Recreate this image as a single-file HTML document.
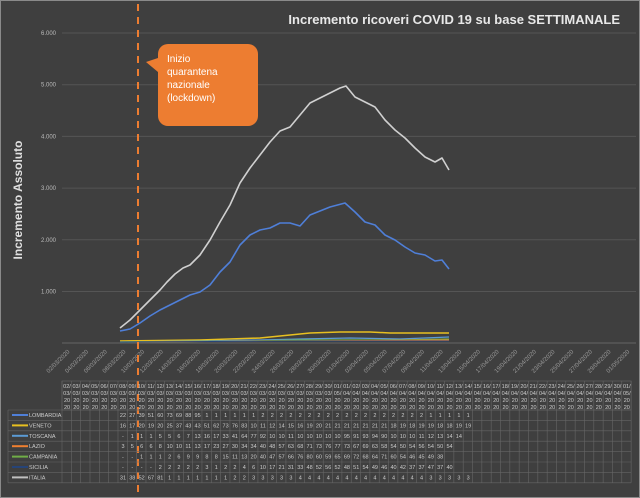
<!DOCTYPE html><html><head><meta charset="utf-8"><style>
html,body{margin:0;padding:0;background:#3f3f3f;width:640px;height:498px;overflow:hidden}
svg{display:block;font-family:"Liberation Sans",sans-serif}
</style></head><body>
<svg id="s" width="640" height="498" xmlns="http://www.w3.org/2000/svg">
<rect x="0.5" y="0.5" width="639" height="497" fill="#3f3f3f" stroke="#8a8a8a"/>
<text x="620" y="24" fill="#e8e8e8" font-size="13" font-weight="bold" text-anchor="end">Incremento ricoveri COVID 19 su base SETTIMANALE</text>
<text transform="translate(22,200) rotate(-90)" fill="#e0e0e0" font-size="12" font-weight="bold" text-anchor="middle">Incremento Assoluto</text>
<g id="grid"></g>
<g id="series"></g>
<line x1="138" y1="4" x2="138" y2="498" stroke="#ed7d31" stroke-width="2" stroke-dasharray="7,6"/>
<path d="M168,44 h80 a10,10 0 0 1 10,10 v62 a10,10 0 0 1 -10,10 h-80 a10,10 0 0 1 -10,-10 v-44 l-12,-10 12,-4 v-4 a10,10 0 0 1 10,-10z" fill="#ed7d31"/>
<text fill="#fff" font-size="10"><tspan x="167" y="62">Inizio</tspan><tspan x="167" y="75">quarantena</tspan><tspan x="167" y="88">nazionale</tspan><tspan x="167" y="101">(lockdown)</tspan></text>
<g id="tbl"></g>
</svg>
<script>
(function(){
var NS="http://www.w3.org/2000/svg";
function el(p,t,a,txt){var e=document.createElementNS(NS,t);for(var k in a)e.setAttribute(k,a[k]);if(txt!=null)e.textContent=txt;document.getElementById(p).appendChild(e);return e;}
var ylab=["6.000","5.000","4.000","3.000","2.000","1.000"];
for(var i=0;i<6;i++){var y=33+i*51.7;el("grid","line",{x1:62,x2:636,y1:y,y2:y,stroke:"#555","stroke-width":1});el("grid","text",{x:56,y:y+2,fill:"#bbb","font-size":6,"text-anchor":"end"},ylab[i]);}
el("grid","line",{x1:62,x2:636,y1:343,y2:343,stroke:"#666"});
var c0=67,dx=9.33,N=61;
function dstr(i){var d=2+i,m=3;if(d>31){d-=31;m=4;}if(d>30){d-=30;m=5;}return (d<10?"0":"")+d+"/0"+m+"/2020";}
for(var i=0;i<N;i+=2){var x=c0+i*dx;el("grid","text",{transform:"translate("+(x+3)+",352) rotate(-45)",fill:"#999","font-size":6,"text-anchor":"end"},dstr(i));}
function pl(pts,col,w){el("series","polyline",{points:pts,fill:"none",stroke:col,"stroke-width":w,"stroke-linejoin":"round"});}
pl("120,328 130,320 140,310 150,300 160,290 167,282 175,274 183,268 190,265 200,255 210,240 220,222 230,205 240,183 250,168 260,155 270,142 280,131 290,127 300,115 310,103 320,98 330,93 340,88 346,86 355,97 365,102 375,107 385,120 395,130 405,138 415,148 425,157 435,162 442,158 449,170","#d0d0d0",1.6);
pl("120,331 130,329 140,323 150,316 160,310 170,305 180,300 190,295 200,292 210,285 220,272 230,262 240,245 250,235 260,230 270,228 280,223 290,223 300,226 310,215 320,211 330,207 345,203 355,212 365,222 375,225 385,235 395,240 405,247 415,253 425,255 435,261 442,260 449,269","#4f7fd8",1.6);
pl("120,341 200,340 260,338 290,335 310,333 340,332 370,332 390,333 420,333 449,333","#e8c020",1.5);
pl("120,342 200,341 260,340 300,339 350,338 400,339 449,337","#5b9bd5",1.3);
pl("120,342 250,341 300,340 350,340 400,340 449,339","#70ad47",1.3);
pl("120,342 449,340","#f08030",1);
pl("120,342 300,341 449,341","#264478",1);
var T0=381,hh=29,rh=10.4;
el("tbl","rect",{x:62,y:T0,width:N*dx,height:hh,fill:"none",stroke:"#666","stroke-width":0.6});
for(var i=0;i<=N;i++){var x=62+i*dx;el("tbl","line",{x1:x,x2:x,y1:T0,y2:T0+hh+7*rh,stroke:"#666","stroke-width":0.6});}
for(var i=0;i<N;i++){var x=c0+i*dx,s=dstr(i);var p=[s.slice(0,3),s.slice(3,6),"20","20"];for(var j=0;j<4;j++)el("tbl","text",{x:x,y:T0+7+j*7,fill:"#ccc","font-size":5.5,"text-anchor":"middle"},p[j]);}
var names=["LOMBARDIA","VENETO","TOSCANA","LAZIO","CAMPANIA","SICILIA","ITALIA"];
var cols=["#4f7fd8","#e8c020","#5b9bd5","#f08030","#70ad47","#264478","#c0c0c0"];
var vals=[
"22 27 39 51 60 73 69 88 95 1 1 1 1 1 1 2 2 2 2 2 2 2 2 2 2 2 2 2 2 2 2 2 2 1 1 1 1 1",
"16 17 20 19 20 25 37 43 43 51 62 73 76 83 10 11 12 14 15 16 19 20 21 21 21 21 21 21 21 18 19 18 19 19 18 18 19 19",
"- 1 1 1 5 5 6 7 13 16 17 33 41 64 77 92 10 10 11 10 10 10 10 10 95 91 93 94 90 10 10 10 11 12 13 14 14",
"3 5 6 6 8 10 10 11 13 17 23 27 30 34 34 40 48 57 63 68 71 73 76 77 73 67 69 63 58 54 50 54 56 54 50 54",
"- - 1 1 1 2 6 9 9 8 8 15 11 13 20 40 47 57 66 76 80 60 59 65 69 72 68 64 71 60 54 46 45 49 38",
"- - - - 2 2 2 2 2 3 1 2 2 4 6 10 17 21 31 33 48 52 56 52 48 51 54 49 46 40 42 37 37 47 37 40",
"31 38 52 67 81 1 1 1 1 1 1 1 2 2 3 3 3 3 3 4 4 4 4 4 4 4 4 4 4 4 4 4 4 3 3 3 3 3"];
for(var r=0;r<7;r++){var y=T0+hh+r*rh;
el("tbl","line",{x1:8,x2:62+N*dx,y1:y,y2:y,stroke:"#666","stroke-width":0.6});
el("tbl","line",{x1:12,x2:28,y1:y+5,y2:y+5,stroke:cols[r],"stroke-width":2});
el("tbl","text",{x:29,y:y+7,fill:"#ccc","font-size":5.5},names[r]);
var v=vals[r].split(" ");for(var k=0;k<v.length&&k+6<N;k++)el("tbl","text",{x:c0+(k+6)*dx,y:y+7,fill:"#ccc","font-size":5.5,"text-anchor":"middle"},v[k]);}
var yb=T0+hh+7*rh;el("tbl","line",{x1:8,x2:62+N*dx,y1:yb,y2:yb,stroke:"#666","stroke-width":0.6});
el("tbl","line",{x1:8,x2:8,y1:T0+hh,y2:yb,stroke:"#666","stroke-width":0.6});
})();
</script>
</body></html>
